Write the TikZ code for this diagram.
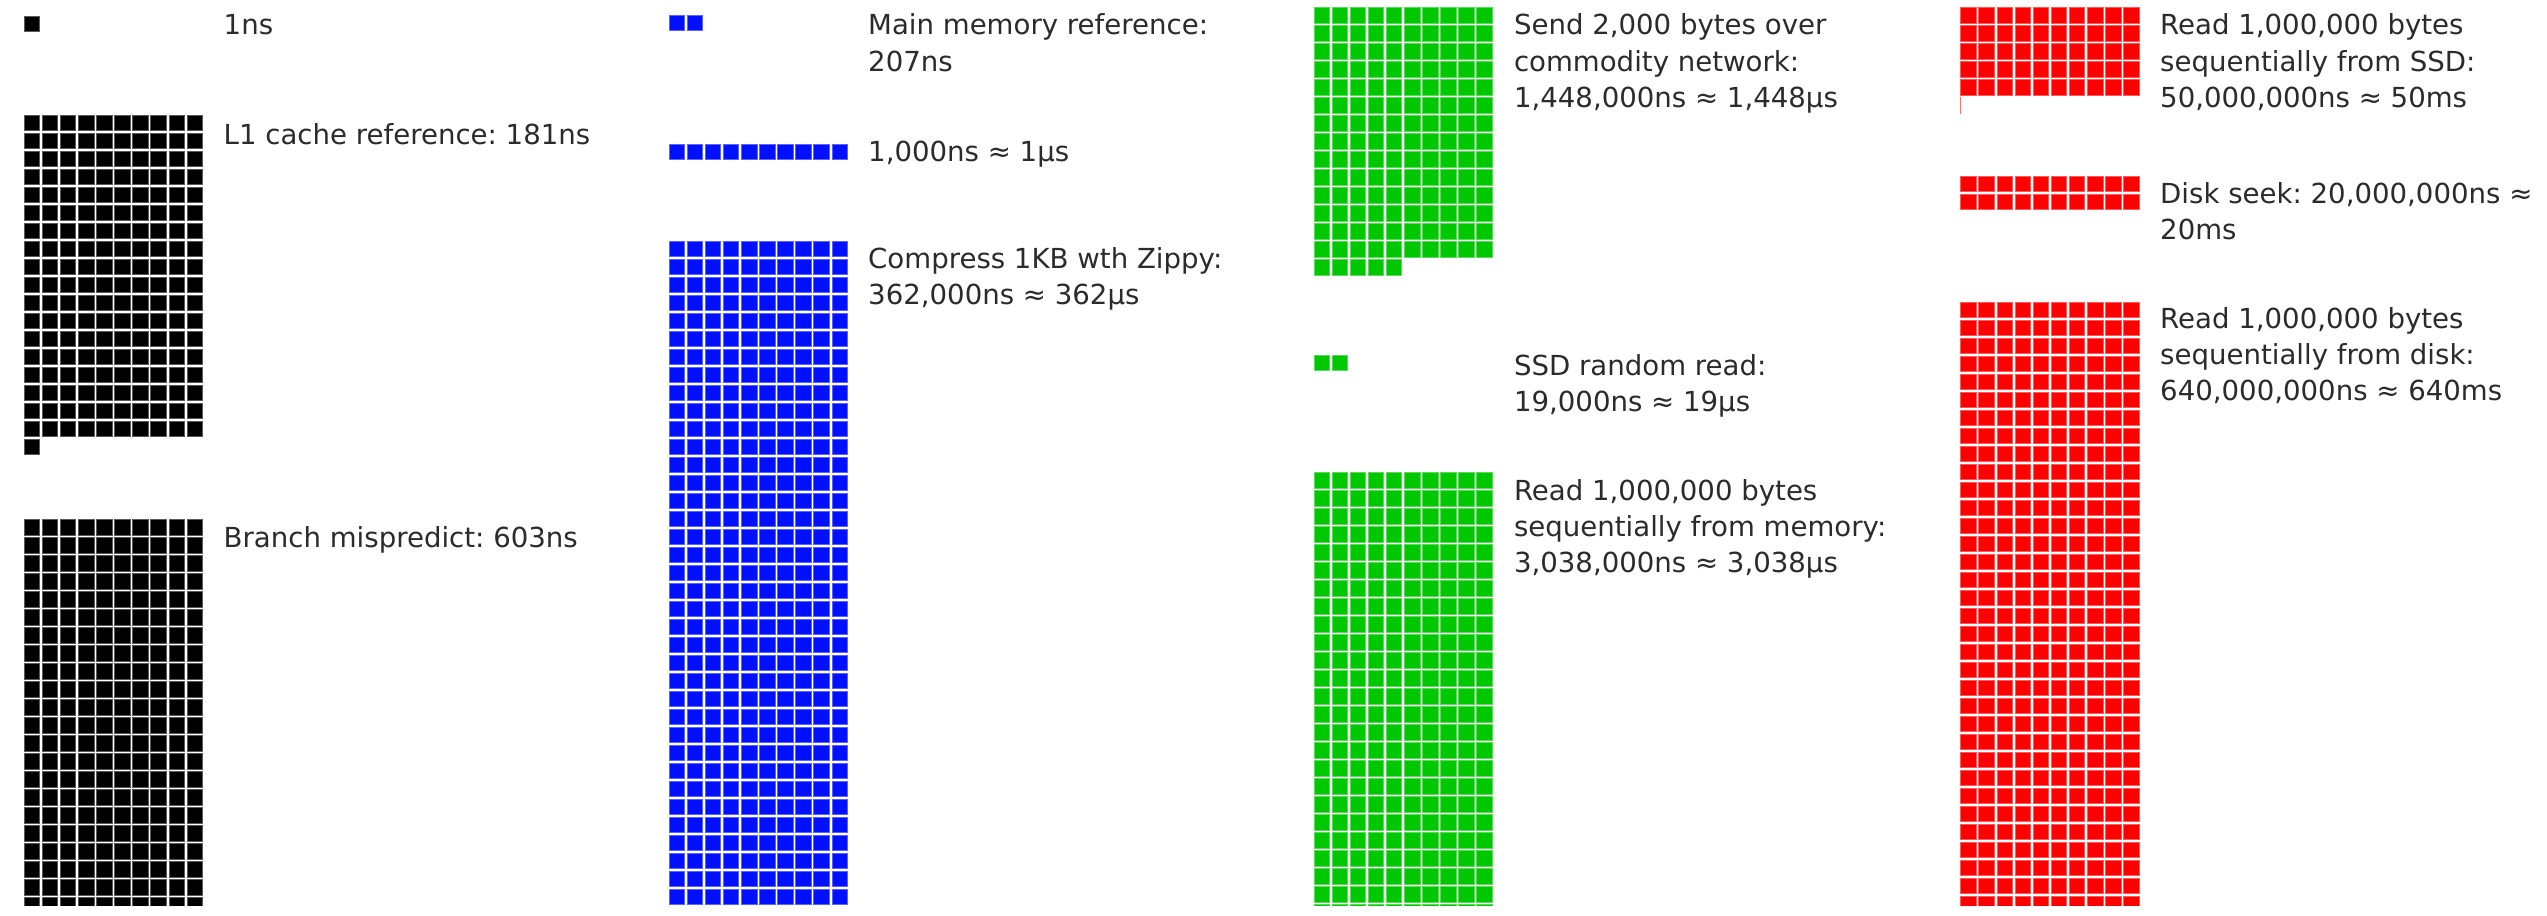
\documentclass[tikz,border=0pt]{standalone}
\usepackage{fontspec}
\setmainfont{DejaVu Sans}

\definecolor{ink}{HTML}{2B2B2B}
\definecolor{cblack}{HTML}{000000}
\definecolor{cblue}{HTML}{0010FF}
\definecolor{cgreen}{HTML}{00C800}
\definecolor{cred}{HTML}{FF0000}

% one square of a waffle block
\tikzset{
  cell/.style={fill=#1, draw=#1!65!white, line width=1.0pt},
  lbl/.style={anchor=base west, inner sep=0pt, text=ink,
              font=\fontsize{27.6pt}{36.2pt}\selectfont\frenchspacing},
}

% \cellgrid{left}{top}{squares}{colour}{lowest visible y}
% draws the squares ten to a row, skipping rows below the visible area
\newcommand\cellgrid[5]{%
  \pgfmathtruncatemacro\gridrows{ceil(#3/10)}%
  \pgfmathtruncatemacro\gridmax{min(\gridrows, floor((#5-#2)/18.0)+1)}%
  \foreach \r in {1,...,\gridmax} {%
    \pgfmathtruncatemacro\gridcols{min(10, #3-(\r-1)*10)}%
    \foreach \c in {1,...,\gridcols} {%
      \path[cell=#4] ({#1+(\c-1)*18.1+0.5},{#2+(\r-1)*18.0+0.5}) rectangle ++(15.5,15.4);
    }%
  }%
}

\newcommand\twolines[2]{\vtop{\hbox{#1}\hbox{#2}}}
\newcommand\threelines[3]{\vtop{\hbox{#1}\hbox{#2}\hbox{#3}}}

\begin{document}
\begin{tikzpicture}[x=1pt,y=-1pt]
  \useasboundingbox (0,0) rectangle (2547,915);
  \fill[white] (0,0) rectangle (2547,915);

  \begin{scope}
    \clip (0,0) rectangle (2547,905.5);
    % 1 square = 1ns
    \cellgrid{23.7}{15.7}{1}{cblack}{905.5}
    \cellgrid{23.7}{115}{181}{cblack}{905.5}
    \cellgrid{23.7}{519.3}{603}{cblack}{905.5}
    % 1 square = 100ns
    \cellgrid{668.6}{15}{2}{cblue}{905.5}
    \cellgrid{668.6}{144}{10}{cblue}{905.5}
    \cellgrid{668.6}{240.7}{3620}{cblue}{905.5}
    % 1 square = 10us
    \cellgrid{1313.5}{7.3}{145}{cgreen}{905.5}
    \cellgrid{1313.5}{355}{2}{cgreen}{905.5}
    \cellgrid{1313.5}{472.3}{304}{cgreen}{905.5}
    % 1 square = 1ms
    \cellgrid{1960.3}{7.3}{50}{cred}{905.5}
    \fill[cred!55!white] (1960.0,97.3) rectangle (1961.0,113.7);
    \cellgrid{1960.3}{176}{20}{cred}{905.5}
    \cellgrid{1960.3}{301.7}{640}{cred}{905.5}
  \end{scope}

  % labels
  \node[lbl] (ns)     at (223.5,35)    {1ns};
  \node[lbl] (lone)   at (223.5,145)   {L1 cache reference: 181ns};
  \node[lbl] (branch) at (223.5,547.7) {Branch mispredict: 603ns};

  \node[lbl] (mainmem)  at (868,35)    {\twolines{Main memory reference:}{207ns}};
  \node[lbl] (micro)    at (868,161)   {1,000ns ≈ 1µs};
  \node[lbl] (compress) at (868,268.3) {\twolines{Compress 1KB wth Zippy:}{362,000ns ≈ 362µs}};

  \node[lbl] (send)   at (1513.8,35)  {\threelines{Send 2,000 bytes over}{commodity network:}{1,448,000ns ≈ 1,448µs}};
  \node[lbl] (ssdrnd) at (1513.8,375) {\twolines{SSD random read:}{19,000ns ≈ 19µs}};
  \node[lbl] (memseq) at (1513.8,500) {\threelines{Read 1,000,000 bytes}{sequentially from memory:}{3,038,000ns ≈ 3,038µs}};

  \node[lbl] (ssdseq)   at (2160,35)    {\threelines{Read 1,000,000 bytes}{sequentially from SSD:}{50,000,000ns ≈ 50ms}};
  \node[lbl] (seek)     at (2160,203.3) {\twolines{Disk seek: 20,000,000ns ≈}{20ms}};
  \node[lbl] (diskseq)  at (2160,328.3) {\threelines{Read 1,000,000 bytes}{sequentially from disk:}{640,000,000ns ≈ 640ms}};
\end{tikzpicture}
\end{document}
